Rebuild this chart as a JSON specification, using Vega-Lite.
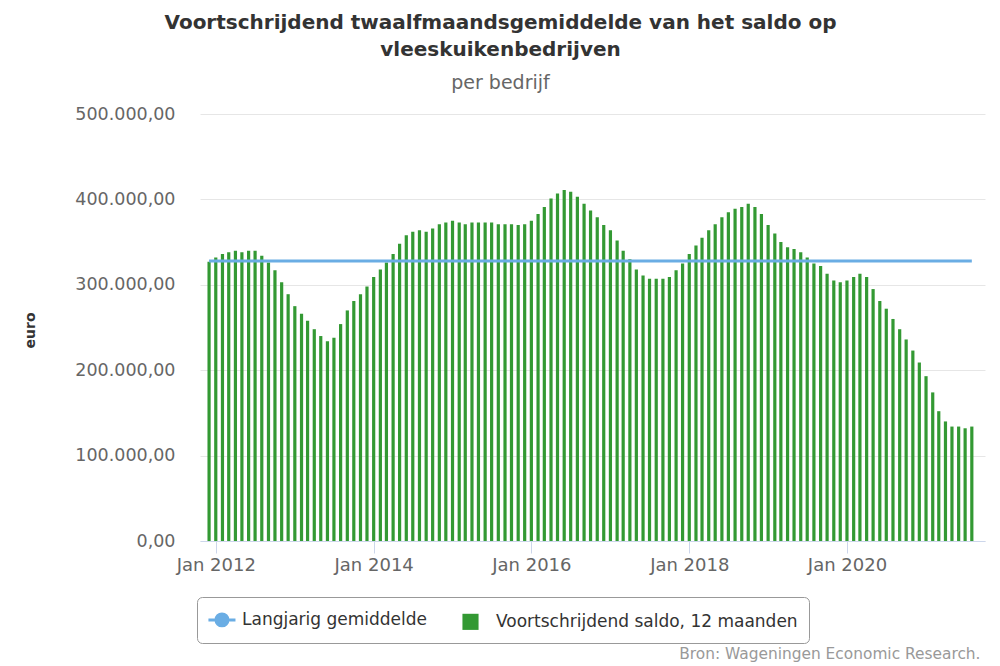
{
  "$schema": "https://vega.github.io/schema/vega-lite/v6.json",
  "width": 785,
  "height": 427,
  "autosize": {"type": "none"},
  "padding": {"left": 200, "top": 114, "right": 15, "bottom": 125},
  "title": {
    "text": ["Voortschrijdend twaalfmaandsgemiddelde van het saldo op", "vleeskuikenbedrijven"],
    "subtitle": "per bedrijf",
    "anchor": "middle",
    "frame": "group",
    "dx": -92,
    "offset": 12,
    "font": "DejaVu Sans",
    "fontSize": 20,
    "fontWeight": "bold",
    "color": "#333333",
    "lineHeight": 27,
    "subtitleFont": "DejaVu Sans",
    "subtitleFontSize": 19,
    "subtitleColor": "#666666",
    "subtitlePadding": 14
  },
  "data": {
    "values": [
      {"maand": "2011-12-01", "saldo": 327000, "gem": 328000},
      {"maand": "2012-01-01", "saldo": 332000, "gem": 328000},
      {"maand": "2012-02-01", "saldo": 336000, "gem": 328000},
      {"maand": "2012-03-01", "saldo": 338000, "gem": 328000},
      {"maand": "2012-04-01", "saldo": 340000, "gem": 328000},
      {"maand": "2012-05-01", "saldo": 338000, "gem": 328000},
      {"maand": "2012-06-01", "saldo": 340000, "gem": 328000},
      {"maand": "2012-07-01", "saldo": 340000, "gem": 328000},
      {"maand": "2012-08-01", "saldo": 334000, "gem": 328000},
      {"maand": "2012-09-01", "saldo": 326000, "gem": 328000},
      {"maand": "2012-10-01", "saldo": 317000, "gem": 328000},
      {"maand": "2012-11-01", "saldo": 303000, "gem": 328000},
      {"maand": "2012-12-01", "saldo": 289000, "gem": 328000},
      {"maand": "2013-01-01", "saldo": 275000, "gem": 328000},
      {"maand": "2013-02-01", "saldo": 266000, "gem": 328000},
      {"maand": "2013-03-01", "saldo": 258000, "gem": 328000},
      {"maand": "2013-04-01", "saldo": 248000, "gem": 328000},
      {"maand": "2013-05-01", "saldo": 240000, "gem": 328000},
      {"maand": "2013-06-01", "saldo": 234000, "gem": 328000},
      {"maand": "2013-07-01", "saldo": 238000, "gem": 328000},
      {"maand": "2013-08-01", "saldo": 254000, "gem": 328000},
      {"maand": "2013-09-01", "saldo": 270000, "gem": 328000},
      {"maand": "2013-10-01", "saldo": 281000, "gem": 328000},
      {"maand": "2013-11-01", "saldo": 289000, "gem": 328000},
      {"maand": "2013-12-01", "saldo": 298000, "gem": 328000},
      {"maand": "2014-01-01", "saldo": 309000, "gem": 328000},
      {"maand": "2014-02-01", "saldo": 318000, "gem": 328000},
      {"maand": "2014-03-01", "saldo": 326000, "gem": 328000},
      {"maand": "2014-04-01", "saldo": 336000, "gem": 328000},
      {"maand": "2014-05-01", "saldo": 348000, "gem": 328000},
      {"maand": "2014-06-01", "saldo": 358000, "gem": 328000},
      {"maand": "2014-07-01", "saldo": 362000, "gem": 328000},
      {"maand": "2014-08-01", "saldo": 364000, "gem": 328000},
      {"maand": "2014-09-01", "saldo": 362000, "gem": 328000},
      {"maand": "2014-10-01", "saldo": 366000, "gem": 328000},
      {"maand": "2014-11-01", "saldo": 371000, "gem": 328000},
      {"maand": "2014-12-01", "saldo": 373000, "gem": 328000},
      {"maand": "2015-01-01", "saldo": 375000, "gem": 328000},
      {"maand": "2015-02-01", "saldo": 373000, "gem": 328000},
      {"maand": "2015-03-01", "saldo": 371000, "gem": 328000},
      {"maand": "2015-04-01", "saldo": 373000, "gem": 328000},
      {"maand": "2015-05-01", "saldo": 373000, "gem": 328000},
      {"maand": "2015-06-01", "saldo": 373000, "gem": 328000},
      {"maand": "2015-07-01", "saldo": 373000, "gem": 328000},
      {"maand": "2015-08-01", "saldo": 371000, "gem": 328000},
      {"maand": "2015-09-01", "saldo": 371000, "gem": 328000},
      {"maand": "2015-10-01", "saldo": 371000, "gem": 328000},
      {"maand": "2015-11-01", "saldo": 370000, "gem": 328000},
      {"maand": "2015-12-01", "saldo": 371000, "gem": 328000},
      {"maand": "2016-01-01", "saldo": 375000, "gem": 328000},
      {"maand": "2016-02-01", "saldo": 383000, "gem": 328000},
      {"maand": "2016-03-01", "saldo": 391000, "gem": 328000},
      {"maand": "2016-04-01", "saldo": 401000, "gem": 328000},
      {"maand": "2016-05-01", "saldo": 407000, "gem": 328000},
      {"maand": "2016-06-01", "saldo": 411000, "gem": 328000},
      {"maand": "2016-07-01", "saldo": 409000, "gem": 328000},
      {"maand": "2016-08-01", "saldo": 403000, "gem": 328000},
      {"maand": "2016-09-01", "saldo": 395000, "gem": 328000},
      {"maand": "2016-10-01", "saldo": 387000, "gem": 328000},
      {"maand": "2016-11-01", "saldo": 379000, "gem": 328000},
      {"maand": "2016-12-01", "saldo": 370000, "gem": 328000},
      {"maand": "2017-01-01", "saldo": 364000, "gem": 328000},
      {"maand": "2017-02-01", "saldo": 352000, "gem": 328000},
      {"maand": "2017-03-01", "saldo": 340000, "gem": 328000},
      {"maand": "2017-04-01", "saldo": 330000, "gem": 328000},
      {"maand": "2017-05-01", "saldo": 318000, "gem": 328000},
      {"maand": "2017-06-01", "saldo": 311000, "gem": 328000},
      {"maand": "2017-07-01", "saldo": 307000, "gem": 328000},
      {"maand": "2017-08-01", "saldo": 307000, "gem": 328000},
      {"maand": "2017-09-01", "saldo": 307000, "gem": 328000},
      {"maand": "2017-10-01", "saldo": 309000, "gem": 328000},
      {"maand": "2017-11-01", "saldo": 317000, "gem": 328000},
      {"maand": "2017-12-01", "saldo": 325000, "gem": 328000},
      {"maand": "2018-01-01", "saldo": 336000, "gem": 328000},
      {"maand": "2018-02-01", "saldo": 346000, "gem": 328000},
      {"maand": "2018-03-01", "saldo": 355000, "gem": 328000},
      {"maand": "2018-04-01", "saldo": 364000, "gem": 328000},
      {"maand": "2018-05-01", "saldo": 371000, "gem": 328000},
      {"maand": "2018-06-01", "saldo": 379000, "gem": 328000},
      {"maand": "2018-07-01", "saldo": 385000, "gem": 328000},
      {"maand": "2018-08-01", "saldo": 389000, "gem": 328000},
      {"maand": "2018-09-01", "saldo": 391000, "gem": 328000},
      {"maand": "2018-10-01", "saldo": 395000, "gem": 328000},
      {"maand": "2018-11-01", "saldo": 391000, "gem": 328000},
      {"maand": "2018-12-01", "saldo": 383000, "gem": 328000},
      {"maand": "2019-01-01", "saldo": 370000, "gem": 328000},
      {"maand": "2019-02-01", "saldo": 360000, "gem": 328000},
      {"maand": "2019-03-01", "saldo": 350000, "gem": 328000},
      {"maand": "2019-04-01", "saldo": 344000, "gem": 328000},
      {"maand": "2019-05-01", "saldo": 342000, "gem": 328000},
      {"maand": "2019-06-01", "saldo": 338000, "gem": 328000},
      {"maand": "2019-07-01", "saldo": 332000, "gem": 328000},
      {"maand": "2019-08-01", "saldo": 325000, "gem": 328000},
      {"maand": "2019-09-01", "saldo": 322000, "gem": 328000},
      {"maand": "2019-10-01", "saldo": 313000, "gem": 328000},
      {"maand": "2019-11-01", "saldo": 305000, "gem": 328000},
      {"maand": "2019-12-01", "saldo": 303000, "gem": 328000},
      {"maand": "2020-01-01", "saldo": 305000, "gem": 328000},
      {"maand": "2020-02-01", "saldo": 309000, "gem": 328000},
      {"maand": "2020-03-01", "saldo": 313000, "gem": 328000},
      {"maand": "2020-04-01", "saldo": 309000, "gem": 328000},
      {"maand": "2020-05-01", "saldo": 295000, "gem": 328000},
      {"maand": "2020-06-01", "saldo": 281000, "gem": 328000},
      {"maand": "2020-07-01", "saldo": 272000, "gem": 328000},
      {"maand": "2020-08-01", "saldo": 260000, "gem": 328000},
      {"maand": "2020-09-01", "saldo": 248000, "gem": 328000},
      {"maand": "2020-10-01", "saldo": 236000, "gem": 328000},
      {"maand": "2020-11-01", "saldo": 223000, "gem": 328000},
      {"maand": "2020-12-01", "saldo": 209000, "gem": 328000},
      {"maand": "2021-01-01", "saldo": 193000, "gem": 328000},
      {"maand": "2021-02-01", "saldo": 174000, "gem": 328000},
      {"maand": "2021-03-01", "saldo": 152000, "gem": 328000},
      {"maand": "2021-04-01", "saldo": 140000, "gem": 328000},
      {"maand": "2021-05-01", "saldo": 134000, "gem": 328000},
      {"maand": "2021-06-01", "saldo": 134000, "gem": 328000},
      {"maand": "2021-07-01", "saldo": 132000, "gem": 328000},
      {"maand": "2021-08-01", "saldo": 134000, "gem": 328000}
    ]
  },
  "encoding": {
    "x": {
      "field": "maand",
      "type": "temporal",
      "scale": {
        "type": "utc",
        "nice": false,
        "padding": 0,
        "domain": [
          {"year": 2011, "month": 10, "date": 20, "utc": true},
          {"year": 2021, "month": 10, "date": 1, "utc": true}
        ]
      },
      "axis": {
        "values": [
          {"year": 2012, "month": 1, "date": 1, "utc": true},
          {"year": 2014, "month": 1, "date": 1, "utc": true},
          {"year": 2016, "month": 1, "date": 1, "utc": true},
          {"year": 2018, "month": 1, "date": 1, "utc": true},
          {"year": 2020, "month": 1, "date": 1, "utc": true}
        ],
        "format": "%b %Y",
        "grid": false,
        "domainColor": "#ccd6eb",
        "domainWidth": 1,
        "tickColor": "#ccd6eb",
        "tickSize": 12,
        "labelPadding": 3,
        "labelFont": "DejaVu Sans",
        "labelFontSize": 18,
        "labelColor": "#666666",
        "title": "Bron: Wageningen Economic Research.",
        "titleFont": "DejaVu Sans",
        "titleFontSize": 15.4,
        "titleFontWeight": "normal",
        "titleColor": "#999999",
        "titleAnchor": null,
        "titleAlign": "right",
        "titleBaseline": "middle",
        "titleX": 780,
        "titleY": 112
      }
    }
  },
  "layer": [
    {
      "mark": {"type": "bar", "size": 3.2},
      "encoding": {
        "y": {
          "field": "saldo",
          "type": "quantitative",
          "scale": {"domain": [0, 500000], "nice": false},
          "axis": {
            "values": [0, 100000, 200000, 300000, 400000, 500000],
            "labelExpr": "replace(format(datum.value, ','), regexp(',', 'g'), '.') + ',00'",
            "grid": true,
            "gridColor": "#e6e6e6",
            "gridWidth": 1,
            "domain": false,
            "ticks": false,
            "labelPadding": 25,
            "labelFont": "DejaVu Sans",
            "labelFontSize": 17.5,
            "labelColor": "#666666",
            "title": "euro",
            "titleFont": "DejaVu Sans",
            "titleFontSize": 14,
            "titleFontWeight": "bold",
            "titleColor": "#333333",
            "titleAngle": 270,
            "titleAnchor": null,
            "titleAlign": "center",
            "titleBaseline": "middle",
            "titleX": -170,
            "titleY": 216
          }
        },
        "color": {
          "datum": "Voortschrijdend saldo, 12 maanden",
          "type": "nominal",
          "scale": {
            "domain": ["Langjarig gemiddelde", "Voortschrijdend saldo, 12 maanden"],
            "range": ["#6aade4", "#339933"]
          },
          "legend": {
            "title": null,
            "orient": "none",
            "direction": "horizontal",
            "legendX": -3,
            "legendY": 483,
            "symbolSize": 676,
            "labelFont": "DejaVu Sans",
            "labelFontSize": 17,
            "labelColor": "#333333",
            "labelLimit": 0,
            "labelOffset": 17,
            "columnPadding": 34,
            "padding": 11,
            "strokeColor": "#999999",
            "cornerRadius": 5,
            "encode": {
              "labels": {
                "update": {
                  "dy": {"value": 3}
                }
              },
              "symbols": {
                "update": {
                  "shape": {"signal": "datum.value === 'Langjarig gemiddelde' ? 'M-0.62,0.25H1.46M0.88,0.25A0.46,0.46,0,1,1,-0.04,0.25A0.46,0.46,0,1,1,0.88,0.25' : 'M-0.62,-0.37H0.62V0.87H-0.62Z'"},
                  "fill": {"signal": "datum.value === 'Langjarig gemiddelde' ? '#6aade4' : '#339933'"},
                  "stroke": {"signal": "datum.value === 'Langjarig gemiddelde' ? '#6aade4' : '#339933'"},
                  "strokeWidth": {"signal": "datum.value === 'Langjarig gemiddelde' ? 3 : 0"},
                  "opacity": {"value": 1},
                  "fillOpacity": {"value": 1},
                  "strokeOpacity": {"value": 1}
                }
              }
            }
          }
        }
      }
    },
    {
      "mark": {"type": "line", "strokeWidth": 3},
      "encoding": {
        "y": {"field": "gem", "type": "quantitative"},
        "color": {"datum": "Langjarig gemiddelde", "type": "nominal"}
      }
    }
  ],
  "config": {
    "view": {"stroke": null},
    "font": "DejaVu Sans"
  }
}
